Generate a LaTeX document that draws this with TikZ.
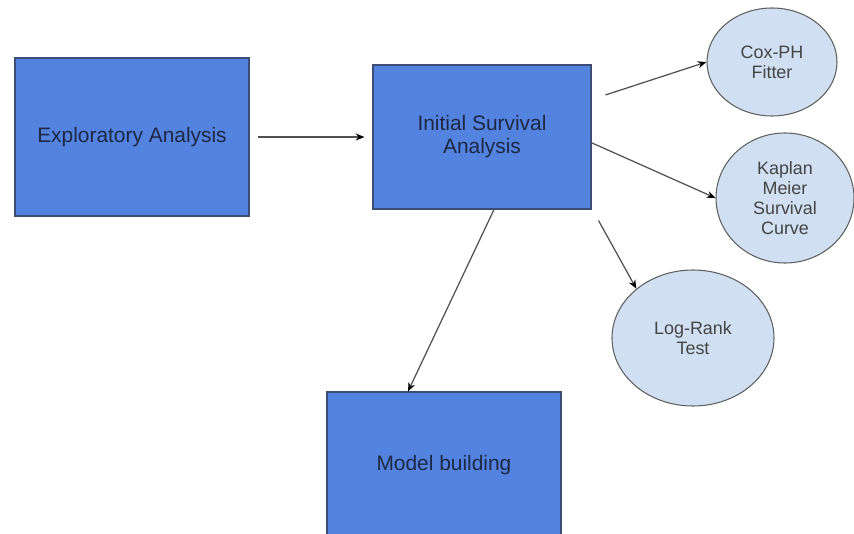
\documentclass[tikz,border=0pt]{standalone}
\usepackage{fontspec}
\setmainfont{Liberation Sans}
\usepackage{tikz}
\usetikzlibrary{shapes.geometric,arrows.meta}
\definecolor{boxblue}{RGB}{83,131,223}
\definecolor{boxline}{RGB}{58,78,118}
\definecolor{boxtext}{RGB}{30,40,68}
\definecolor{ovalblue}{RGB}{208,224,242}
\definecolor{ovalline}{RGB}{95,95,95}
\definecolor{ovaltext}{RGB}{68,68,68}
\definecolor{edgegray}{RGB}{80,80,80}
\tikzset{ b/.style = { rectangle % step box
        , draw = boxline
        , line width = 0.6pt
        , fill = boxblue
        , align = center
        , inner sep = 0pt
        , font = \fontsize{11.9}{13.1}\selectfont\color{boxtext}
        }
        , e/.style = { ellipse % result oval
        , draw = ovalline
        , line width = 0.6pt
        , fill = ovalblue
        , align = center
        , inner sep = 0pt
        , font = \fontsize{10.2}{11.4}\selectfont\color{ovaltext}
        }
        }

\begin{document}
\begin{tikzpicture}[
        edge_style/.style={draw=edgegray, line width=0.7pt, -{Stealth[length=5pt,width=4pt,black]}}]
        \useasboundingbox (0,0) rectangle (17.08,-10.68);

        \node [b,minimum width=4.68cm,minimum height=3.16cm](n1) at (2.64,-2.74) {Exploratory Analysis};
        \node [b,minimum width=4.36cm,minimum height=2.88cm](n2) at (9.64,-2.74) {Initial Survival\\Analysis};
        \node [b,minimum width=4.68cm,minimum height=2.92cm](n3) at (8.88,-9.30) {Model building};
        \node [e,minimum width=2.60cm,minimum height=2.16cm](n4) at (15.44,-1.24) {Cox-PH\\Fitter};
        \node [e,minimum width=2.76cm,minimum height=2.60cm](n5) at (15.70,-3.96) {Kaplan\\Meier\\Survival\\Curve};
        \node [e,minimum width=3.24cm,minimum height=2.72cm](n6) at (13.86,-6.76) {Log-Rank\\Test};

        \draw [edge_style, shorten <=0.16cm, shorten >=0.16cm] (n1) -- (n2);
        \draw [edge_style] ([xshift=0.28cm]n2.21) -- (n4.west);
        \draw [edge_style] (n2.-3) -- (n5.west);
        \draw [edge_style] ([xshift=0.14cm,yshift=-0.22cm]n2.south east) -- (n6.139);
        \draw [edge_style] ([xshift=0.24cm]n2.south) -- ([xshift=-0.72cm]n3.north);

\end{tikzpicture}
\end{document}
